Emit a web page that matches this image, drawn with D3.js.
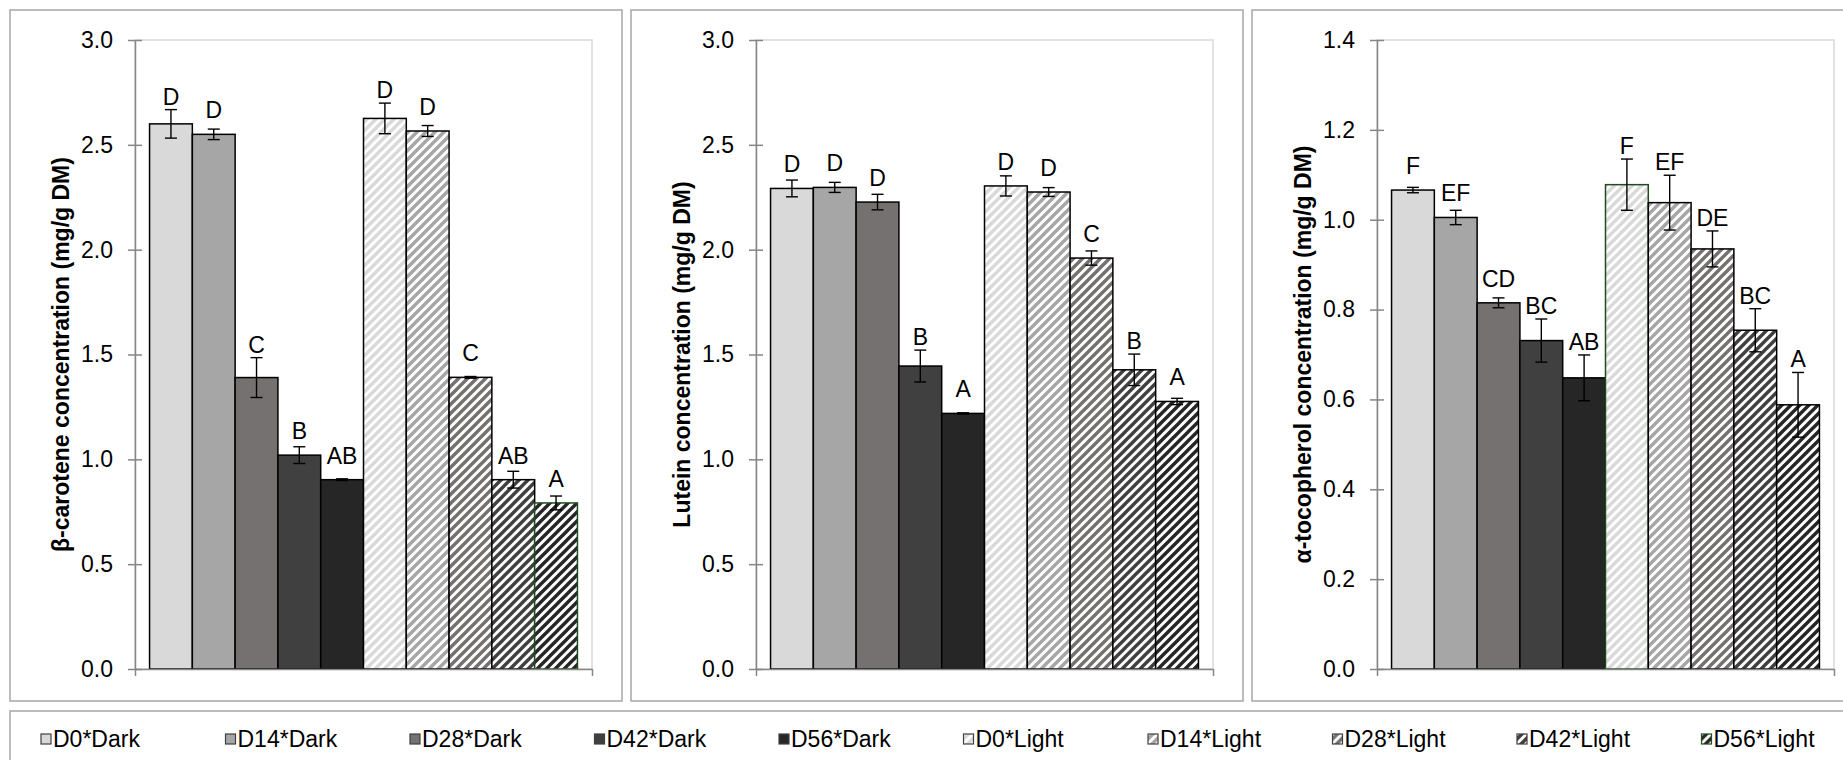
<!DOCTYPE html>
<html>
<head>
<meta charset="utf-8">
<script src="https://cdn.jsdelivr.net/npm/d3@7/dist/d3.min.js"></script>
<style>
  html, body { margin: 0; padding: 0; background: #fff; }
  svg { display: block; font-family: "Liberation Sans", Arial, sans-serif; }
</style>
</head>
<body>
<svg id="chart" width="1843" height="760"></svg>
<script>
// ---------------- data ----------------
const series = ["D0*Dark", "D14*Dark", "D28*Dark", "D42*Dark", "D56*Dark",
                "D0*Light", "D14*Light", "D28*Light", "D42*Light", "D56*Light"];

const betaCarotene      = [2.60, 2.55, 1.39, 1.02, 0.903, 2.626, 2.566, 1.391, 0.903, 0.792];
const betaCaroteneErr   = [0.068, 0.025, 0.095, 0.04, 0.004, 0.073, 0.026, 0.004, 0.04, 0.033];
const betaCaroteneSig   = ["D", "D", "C", "B", "AB", "D", "D", "C", "AB", "A"];

const lutein            = [2.292, 2.297, 2.227, 1.445, 1.219, 2.304, 2.275, 1.960, 1.427, 1.276];
const luteinErr         = [0.04, 0.024, 0.037, 0.076, 0.003, 0.048, 0.021, 0.034, 0.075, 0.015];
const luteinSig         = ["D", "D", "D", "B", "A", "D", "D", "C", "B", "A"];

const tocopherol        = [1.066, 1.005, 0.815, 0.731, 0.648, 1.078, 1.038, 0.935, 0.754, 0.588];
const tocopherolErr     = [0.006, 0.016, 0.011, 0.048, 0.051, 0.057, 0.061, 0.04, 0.048, 0.072];
const tocopherolSig     = ["F", "EF", "CD", "BC", "AB", "F", "EF", "DE", "BC", "A"];

const ticks30 = [0, 0.5, 1.0, 1.5, 2.0, 2.5, 3.0];
const ticks14 = [0, 0.2, 0.4, 0.6, 0.8, 1.0, 1.2, 1.4];

const titles = ["β-carotene concentration (mg/g DM)",
                "Lutein concentration (mg/g DM)",
                "α-tocopherol concentration (mg/g DM)"];

// ---------------- styles ----------------
const baseColors = ["#d9d9d9", "#a6a6a6", "#767171", "#404040", "#262626"];
const green = "#1f4d1f";
const FS = 23;

const svg = d3.select("#chart");
const defs = svg.append("defs");

// striped patterns for the "Light" series
const T = 9;
baseColors.forEach((c, i) => {
  const p = defs.append("pattern")
    .attr("id", "stripe" + i)
    .attr("patternUnits", "userSpaceOnUse")
    .attr("width", T).attr("height", T);
  p.append("rect").attr("width", T).attr("height", T).attr("fill", "#fff");
  p.append("path")
    .attr("d", `M-2,2 L2,-2 M0,${T} L${T},0 M${T - 2},${T + 2} L${T + 2},${T - 2}`)
    .attr("stroke", c).attr("stroke-width", 3.4);
});

function fillFor(i) {
  return i < 5 ? baseColors[i] : "url(#stripe" + (i - 5) + ")";
}

const panels = [
  { left: 10,   values: betaCarotene, err: betaCaroteneErr, sig: betaCaroteneSig, max: 3.0, ticks: ticks30, title: titles[0], green: "D56*Light" },
  { left: 631,  values: lutein,       err: luteinErr,       sig: luteinSig,       max: 3.0, ticks: ticks30, title: titles[1], green: null },
  { left: 1252, values: tocopherol,   err: tocopherolErr,   sig: tocopherolSig,   max: 1.4, ticks: ticks14, title: titles[2], green: "D0*Light" }
];

const frameW = 612, frameTop = 10, frameBottom = 701;
const plotTop = 40, plotBottom = 669;
const axisOff = 125, plotW = 457;

panels.forEach(p => {
  const g = svg.append("g");
  // outer frame
  g.append("rect")
    .attr("x", p.left).attr("y", frameTop)
    .attr("width", frameW).attr("height", frameBottom - frameTop)
    .attr("fill", "none").attr("stroke", "#a6a6a6").attr("stroke-width", 1.5);

  const x0 = p.left + axisOff, x1 = x0 + plotW;
  const y = d3.scaleLinear().domain([0, p.max]).range([plotBottom, plotTop]);
  const x = d3.scaleBand().domain(series).range([x0, x1]).paddingInner(0).paddingOuter(0.34);

  // plot area border (top/right light grey)
  g.append("rect")
    .attr("x", x0).attr("y", plotTop)
    .attr("width", plotW).attr("height", plotBottom - plotTop)
    .attr("fill", "none").attr("stroke", "#d9d9d9").attr("stroke-width", 1.5);

  // bars
  g.selectAll("rect.bar").data(series).join("rect")
    .attr("class", "bar")
    .attr("x", d => x(d))
    .attr("y", (d, i) => y(p.values[i]))
    .attr("width", x.bandwidth())
    .attr("height", (d, i) => y(0) - y(p.values[i]))
    .attr("fill", (d, i) => fillFor(i))
    .attr("stroke", d => d === p.green ? green : "#000")
    .attr("stroke-width", 1.5);

  // error bars
  const cap = 6;
  const eb = g.selectAll("g.eb").data(series).join("g").attr("class", "eb")
    .attr("stroke", "#000").attr("stroke-width", 1.4);
  eb.append("line")
    .attr("x1", d => x(d) + x.bandwidth() / 2).attr("x2", d => x(d) + x.bandwidth() / 2)
    .attr("y1", (d, i) => y(p.values[i] + p.err[i]))
    .attr("y2", (d, i) => y(p.values[i] - p.err[i]));
  eb.append("line")
    .attr("x1", d => x(d) + x.bandwidth() / 2 - cap).attr("x2", d => x(d) + x.bandwidth() / 2 + cap)
    .attr("y1", (d, i) => y(p.values[i] + p.err[i]))
    .attr("y2", (d, i) => y(p.values[i] + p.err[i]));
  eb.append("line")
    .attr("x1", d => x(d) + x.bandwidth() / 2 - cap).attr("x2", d => x(d) + x.bandwidth() / 2 + cap)
    .attr("y1", (d, i) => y(p.values[i] - p.err[i]))
    .attr("y2", (d, i) => y(p.values[i] - p.err[i]));

  // significance letters
  g.selectAll("text.sig").data(series).join("text")
    .attr("class", "sig")
    .attr("x", d => x(d) + x.bandwidth() / 2)
    .attr("y", (d, i) => Math.min(y(p.values[i]) - 16, y(p.values[i] + p.err[i]) - 5))
    .attr("text-anchor", "middle")
    .attr("font-size", FS)
    .attr("fill", "#000")
    .text((d, i) => p.sig[i]);

  // y axis
  const ya = g.append("g")
    .attr("transform", `translate(${x0},0)`)
    .call(d3.axisLeft(y).tickValues(p.ticks).tickFormat(d3.format(".1f"))
      .tickSizeInner(7).tickSizeOuter(0).tickPadding(15));
  ya.select(".domain").attr("stroke", "#868686").attr("stroke-width", 1.5);
  ya.selectAll(".tick line").attr("x1", 7).attr("stroke", "#868686").attr("stroke-width", 1.5);
  ya.selectAll(".tick text").attr("font-size", FS).attr("fill", "#000")
    .attr("font-family", "'Liberation Sans', Arial, sans-serif");

  // x axis (category boundaries only)
  const xl = d3.scaleLinear().domain([0, 1]).range([x0, x1]);
  const xa = g.append("g")
    .attr("transform", `translate(0,${plotBottom})`)
    .call(d3.axisBottom(xl).tickValues([0, 1]).tickFormat("").tickSizeInner(7).tickSizeOuter(0));
  xa.select(".domain").attr("stroke", "#868686").attr("stroke-width", 1.5);
  xa.selectAll(".tick line").attr("stroke", "#868686").attr("stroke-width", 1.5);

  // y title
  g.append("text")
    .attr("transform", `translate(${p.left + 51},${(plotTop + plotBottom) / 2}) rotate(-90)`)
    .attr("text-anchor", "middle")
    .attr("dominant-baseline", "central")
    .attr("font-size", FS)
    .attr("font-weight", "bold")
    .attr("fill", "#000")
    .text(p.title);
});

// ---------------- legend ----------------
const lg = svg.append("g");
lg.append("rect")
  .attr("x", 10).attr("y", 711).attr("width", 1850).attr("height", 60)
  .attr("fill", "none").attr("stroke", "#a6a6a6").attr("stroke-width", 1.5);

const lx = d3.scalePoint().domain(series).range([41, 41 + 9 * 184.5]);
const item = lg.selectAll("g.item").data(series).join("g").attr("class", "item")
  .attr("transform", d => `translate(${lx(d)},739)`);
item.append("rect")
  .attr("x", 0).attr("y", -5).attr("width", 10).attr("height", 10)
  .attr("fill", (d, i) => fillFor(i))
  .attr("stroke", d => d === "D56*Light" ? green : "#404040").attr("stroke-width", 1.2);
item.append("text")
  .attr("x", 12).attr("y", 0)
  .attr("dominant-baseline", "central")
  .attr("font-size", FS).attr("fill", "#000")
  .text(d => d);
</script>
</body>
</html>
